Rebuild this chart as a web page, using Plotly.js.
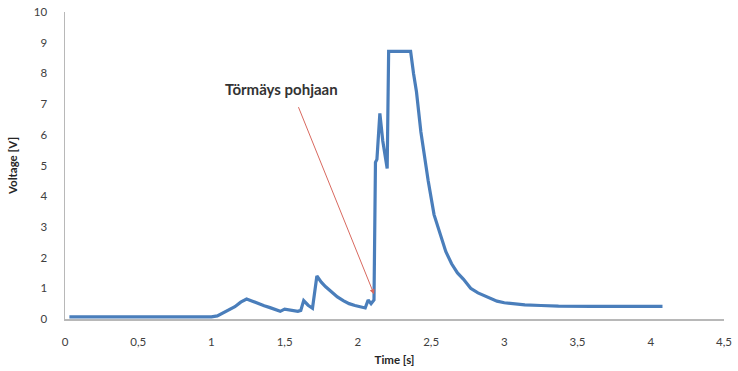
<!DOCTYPE html>
<html>
<head>
<meta charset="utf-8">
<script src="https://cdn.plot.ly/plotly-3.0.1.min.js"></script>
<style>html,body{margin:0;padding:0;background:#fff;}#chart{width:738px;height:371px;}</style>
</head>
<body>
<div id="chart"></div>
<script>
var timeS = [0.03,0.2,0.4,0.6,0.8,1.0,1.04,1.08,1.12,1.16,1.2,1.24,1.28,1.32,1.36,1.4,1.44,1.47,1.5,1.53,1.56,1.59,1.61,1.63,1.66,1.69,1.72,1.75,1.78,1.82,1.86,1.9,1.94,1.98,2.02,2.05,2.07,2.09,2.11,2.12,2.13,2.15,2.17,2.2,2.21,2.36,2.38,2.4,2.43,2.46,2.48,2.52,2.56,2.6,2.64,2.68,2.72,2.77,2.82,2.89,2.95,3.0,3.07,3.14,3.25,3.37,3.6,3.8,4.08];
var voltage = [0.07,0.07,0.06,0.07,0.06,0.07,0.1,0.2,0.3,0.4,0.55,0.65,0.58,0.5,0.43,0.37,0.3,0.25,0.32,0.3,0.27,0.25,0.28,0.6,0.45,0.35,1.4,1.2,1.05,0.88,0.72,0.6,0.5,0.44,0.38,0.36,0.62,0.5,0.62,5.1,5.2,6.7,5.8,4.9,8.72,8.72,8.0,7.4,6.1,5.1,4.5,3.4,2.8,2.2,1.8,1.5,1.3,1.0,0.85,0.7,0.58,0.53,0.5,0.46,0.44,0.42,0.41,0.41,0.41];
var xTicks = [0,0.5,1,1.5,2,2.5,3,3.5,4,4.5];
var xTickText = ["0","0,5","1","1,5","2","2,5","3","3,5","4","4,5"];
var yTicks = [0,1,2,3,4,5,6,7,8,9,10];
var annText = "Törmäys pohjaan";
var arrowTip = [2.11, 0.81];
var arrowTail = [1.59, 6.95];
var textPos = [1.475, 7.5];

var font = "Lato, 'Open Sans', sans-serif";
Plotly.newPlot('chart', [{
  x: timeS, y: voltage, type: 'scatter', mode: 'lines',
  line: {color: '#4a7ebb', width: 3.2},
  hoverinfo: 'skip'
}], {
  width: 738, height: 371,
  margin: {l: 65, r: 14, t: 12, b: 52},
  paper_bgcolor: '#fff', plot_bgcolor: '#fff',
  showlegend: false,
  font: {family: font, color: '#404040', size: 11},
  xaxis: {
    range: [0, 4.5], tickvals: xTicks, ticktext: xTickText,
    showgrid: false, zeroline: false, showline: true, linecolor: '#b8b8b8', linewidth: 1.5,
    ticks: '', ticklabelstandoff: 12,
    tickfont: {family: font, size: 11.5, color: '#404040'},
    title: {text: 'Time [s]', font: {family: font, size: 11.5, color: '#262626', weight: 'bold'}, standoff: 8}
  },
  yaxis: {
    range: [0, 10], tickvals: yTicks,
    showgrid: false, zeroline: false, showline: true, linecolor: '#b8b8b8', linewidth: 1.5,
    ticks: '', ticklabelstandoff: 14,
    tickfont: {family: font, size: 11.5, color: '#404040'},
    title: {text: 'Voltage [V]', font: {family: font, size: 11.5, color: '#262626', weight: 'bold'}, standoff: 14}
  },
  annotations: [
    {x: arrowTip[0], y: arrowTip[1], ax: arrowTail[0], ay: arrowTail[1], axref: 'x', ayref: 'y', xref: 'x', yref: 'y',
     text: '', showarrow: true, arrowhead: 2, arrowsize: 1, arrowwidth: 1, arrowcolor: '#d9695f'},
    {x: textPos[0], y: textPos[1], xref: 'x', yref: 'y', text: annText, showarrow: false,
     font: {family: font, size: 15, color: '#333333', weight: 'bold'}}
  ]
}, {staticPlot: true});
</script>
</body>
</html>
